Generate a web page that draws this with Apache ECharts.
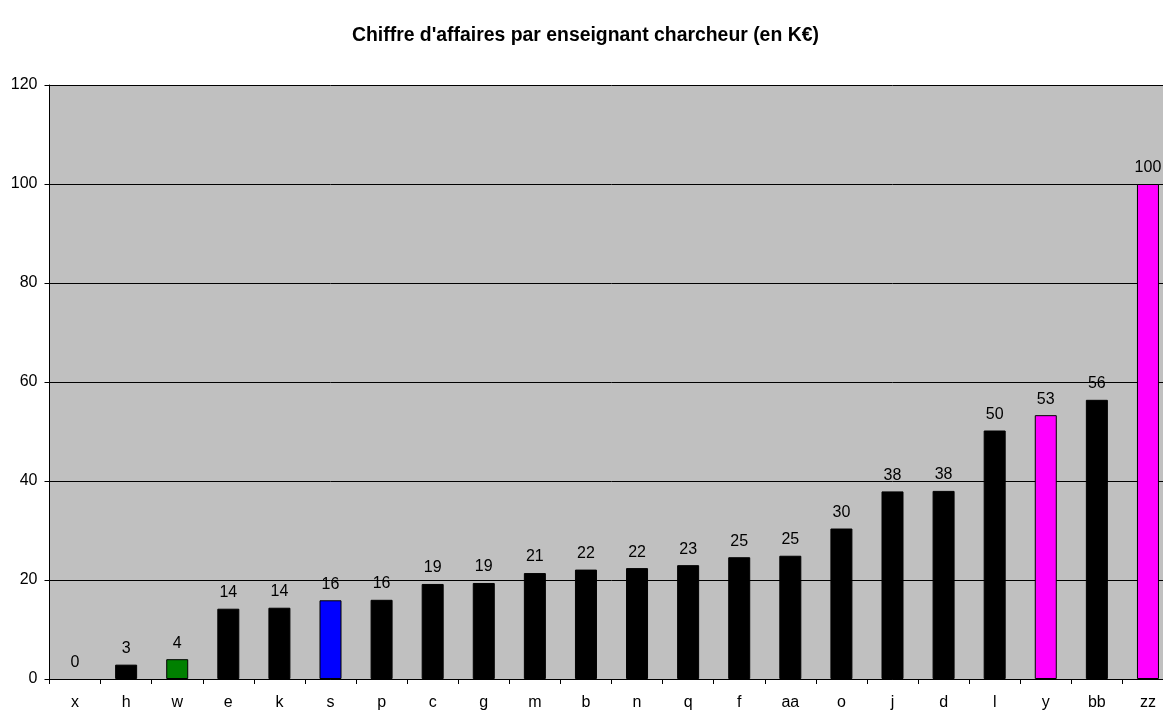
<!DOCTYPE html>
<html><head><meta charset="utf-8">
<script src="https://cdn.jsdelivr.net/npm/echarts@6/dist/echarts.min.js"></script>
<style>html,body{margin:0;padding:0;background:#fff;overflow:hidden;width:1163px;height:711px}#c{width:1180px;height:711px}</style>
</head><body><div id="c"></div>
<script>
const titleText = "Chiffre d'affaires par enseignant charcheur (en K€)";
const categories = ['x','h','w','e','k','s','p','c','g','m','b','n','q','f','aa','o','j','d','l','y','bb','zz'];
const values = [0,2.9,4.0,14.2,14.4,15.9,16.0,19.2,19.4,21.4,22.1,22.4,23.0,24.6,24.9,30.4,37.9,38.0,50.2,53.3,56.4,100];
const barColors = ['#000000','#000000','#008000','#000000','#000000','#0000FF','#000000','#000000','#000000','#000000','#000000','#000000','#000000','#000000','#000000','#000000','#000000','#000000','#000000','#FF00FF','#000000','#FF00FF'];
const yTicks = [0,20,40,60,80,100,120];

const chart = echarts.init(document.getElementById('c'), null, {renderer:'canvas'});
chart.setOption({
  animation:false,
  backgroundColor:'#ffffff',
  title:{text:titleText,left:347,top:21,textStyle:{fontFamily:'Liberation Sans, Arial',fontSize:19.4,fontWeight:'bold',color:'#000'}},
  grid:{left:49.5,width:1124,top:85,height:595,show:true,backgroundColor:'#C0C0C0',borderWidth:0},
  xAxis:{type:'category',data:categories,boundaryGap:true,
    axisLine:{lineStyle:{color:'#000',width:1}},
    axisTick:{show:true,length:5,lineStyle:{color:'#000'},alignWithLabel:false},
    axisLabel:{color:'#000',fontFamily:'Liberation Sans, Arial',fontSize:16,margin:16}},
  yAxis:{type:'value',min:yTicks[0],max:yTicks[yTicks.length-1],interval:20,
    axisLine:{show:true,lineStyle:{color:'#000',width:1}},
    axisTick:{show:true,length:5,lineStyle:{color:'#000'}},
    splitLine:{show:true,lineStyle:{color:'#000',width:1}},
    axisLabel:{color:'#000',fontFamily:'Liberation Sans, Arial',fontSize:16,margin:12}},
  series:[{type:'bar',barWidth:22,
    data:values.map((v,i)=>({value:v,itemStyle:{color:barColors[i],borderColor:'#000',borderWidth:v>0?1:0}})),
    label:{show:true,position:'top',distance:8,color:'#000',fontFamily:'Liberation Sans, Arial',fontSize:16,
      formatter:p=>Math.round(p.value)}}]
});
</script></body></html>
